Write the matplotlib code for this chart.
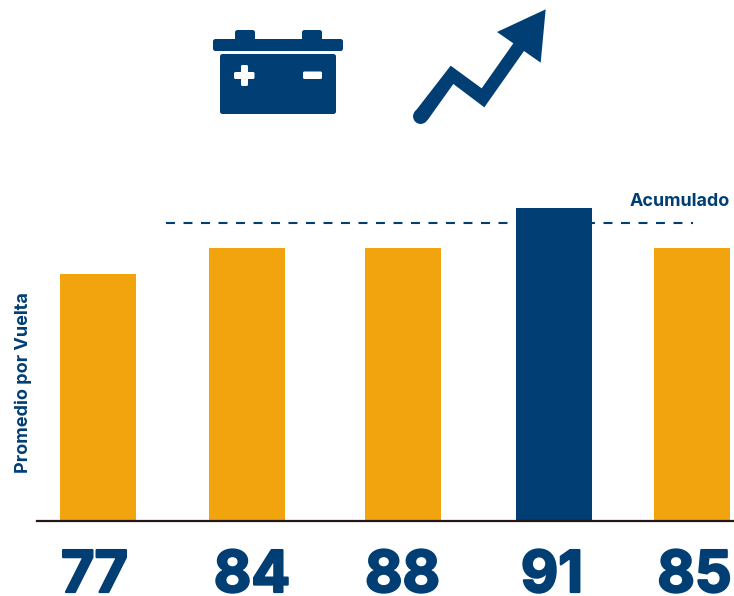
import matplotlib
matplotlib.use("Agg")
import matplotlib.pyplot as plt
from matplotlib.patches import Polygon, Circle, FancyBboxPatch
import matplotlib.patheffects as pe

# Series
race_labels = ["77", "84", "88", "91", "85"]
lap_average = [247, 273, 273, 313, 273]
cumulative = 298.5
highlight = "91"

# Layout, in figure pixels
W, H = 734, 596
BASELINE = 521
bar_centers = [98, 247, 403, 554, 692]
label_centers = [94.5, 252, 402.5, 552, 694.5]
BAR_W = 76

NAVY = "#003e74"
ORANGE = "#f2a40e"
INK = "#231815"
FONT = "Inter"

fig = plt.figure(figsize=(W / 100, H / 100), dpi=100, facecolor="white")
ax = fig.add_axes([0, 1 - BASELINE / H, 1, BASELINE / H])
ax.set_xlim(0, W)
ax.set_ylim(0, BASELINE)
ax.patch.set_visible(False)

colors = [NAVY if lab == highlight else ORANGE for lab in race_labels]
ax.plot([166, 693], [cumulative, cumulative], color=NAVY, lw=1.5,
        dashes=(4.3, 4.1), zorder=1)
ax.bar(bar_centers, lap_average, width=BAR_W, color=colors, zorder=2)

for side in ("top", "left", "right"):
    ax.spines[side].set_visible(False)
ax.spines["bottom"].set_color(INK)
ax.spines["bottom"].set_linewidth(1.6)
ax.spines["bottom"].set_bounds(37, W)
ax.spines["bottom"].set_zorder(3)
ax.set_yticks([])
ax.set_xticks([])

# Category numbers under the bars, thickened with a stroke of the same colour
heavy = [pe.withStroke(linewidth=1.6, foreground=NAVY)]
for cx, lab in zip(label_centers, race_labels):
    ax.text(cx, BASELINE - 592, lab, ha="center", va="baseline", clip_on=False,
            fontfamily=FONT, fontweight="bold", fontsize=41.5, color=NAVY,
            path_effects=heavy)

ax.text(23.5, BASELINE - 382.5, "Promedio por Vuelta", rotation=90, ha="center",
        va="center", fontfamily=FONT, fontweight="bold", fontsize=13,
        color=NAVY)
ax.text(730, BASELINE - 201, "Acumulado", ha="right", va="center",
        fontfamily=FONT, fontweight="bold", fontsize=12.9, color=NAVY)

# Icons, drawn in an overlay whose units are figure pixels
ov = fig.add_axes([0, 0, 1, 1])
ov.set_xlim(0, W)
ov.set_ylim(H, 0)
ov.axis("off")


def rounded(x0, y0, x1, y1, r, color):
    ov.add_patch(FancyBboxPatch((x0 + r, y0 + r), x1 - x0 - 2 * r, y1 - y0 - 2 * r,
                                boxstyle=f"round,pad={r},rounding_size={r}",
                                fc=color, ec="none"))


# Battery
rounded(235, 30, 255, 42, 2.5, NAVY)
rounded(302, 30, 322, 42, 2.5, NAVY)
rounded(213, 39, 343, 51, 2.5, NAVY)
rounded(220, 54, 336, 114, 2.5, NAVY)
rounded(234, 72, 254.5, 79, 1.5, "white")
rounded(241, 65, 248, 86, 1.5, "white")
rounded(303, 71.5, 322, 79, 1.5, "white")

# Rising arrow
arrow = [(1037, 28), (891, 96), (940, 130), (845, 265), (752, 197), (645, 335),
         (683, 360), (760, 252), (853, 322), (972, 153), (1022, 188)]
ov.add_patch(Polygon([(200 + x / 3, y / 3) for x, y in arrow], closed=True,
                     fc=NAVY, ec="none"))
ov.add_patch(Circle((200 + 662 / 3, 349 / 3), 7.6, fc=NAVY, ec="none"))

fig.savefig("out.png", dpi=100, facecolor="white")
